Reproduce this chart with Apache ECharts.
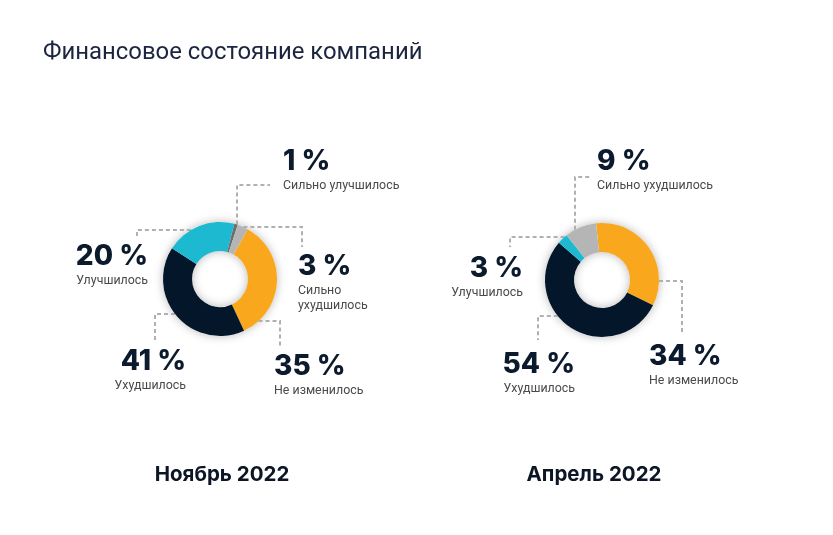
<!DOCTYPE html>
<html><head><meta charset="utf-8">
<script src="https://cdn.jsdelivr.net/npm/echarts@6/dist/echarts.min.js"></script>
<style>html,body{margin:0;padding:0;background:#fff}#c{width:833px;height:535px}</style>
</head><body><div id="c"></div>
<script>
// ---- data ----
const titleText = 'Финансовое состояние компаний';
const periodLabels = ['Ноябрь 2022', 'Апрель 2022'];
const categoriesNov = ['Не изменилось', 'Ухудшилось', 'Улучшилось', 'Сильно улучшилось', 'Сильно ухудшилось'];
const valuesNov = [35, 41, 20, 1, 3];
const categoriesApr = ['Не изменилось', 'Ухудшилось', 'Улучшилось', 'Сильно ухудшилось'];
const valuesApr = [34, 54, 3, 9];

// ---- styles / layout ----
const colorMap = {
  'Не изменилось': '#F9A71C',
  'Ухудшилось': '#04172A',
  'Улучшилось': '#1CB9D0',
  'Сильно улучшилось': '#6E6E6E',
  'Сильно ухудшилось': '#B5B5B5'
};
const R_OUT = 57, R_IN = 28;
const centerNov = [220, 279], centerApr = [602, 280];
// label guide layout relative to pie centre
const layoutNov = {
  'Не изменилось':     {dir: 'h', at: 42,  elbow: 60,  end: 69,  lx: 54,  ly: 72,   align: 'left'},
  'Ухудшилось':        {dir: 'h', at: 35,  elbow: -65, end: 61,  lx: -34, ly: 67,   align: 'right'},
  'Улучшилось':        {dir: 'h', at: -49, elbow: -83, end: -41, lx: -72, ly: -38,  align: 'right'},
  'Сильно улучшилось': {dir: 'v', at: 17,  elbow: -94, end: 50,  lx: 63,  ly: -133, align: 'left'},
  'Сильно ухудшилось': {dir: 'h', at: -52, elbow: 82,  end: -32, lx: 78,  ly: -28,  align: 'left', wrap: true}
};
const layoutApr = {
  'Не изменилось':     {dir: 'h', at: 1,   elbow: 80,  end: 55,  lx: 47,  ly: 61,   align: 'left'},
  'Ухудшилось':        {dir: 'h', at: 36,  elbow: -64, end: 60,  lx: -27, ly: 69,   align: 'right'},
  'Улучшилось':        {dir: 'h', at: -43, elbow: -92, end: -33, lx: -79, ly: -27,  align: 'right'},
  'Сильно ухудшилось': {dir: 'v', at: -27, elbow: -103, end: -10, lx: -5, ly: -134, align: 'left'}
};

function makeLayout(center, cats, cfgs) {
  return function (p) {
    const c = cfgs[cats[p.dataIndex]];
    const cx = center[0], cy = center[1];
    let pts;
    if (c.dir === 'h') {
      const y = cy + c.at;
      const side = Math.sign(c.elbow);
      const x0 = cx + side * Math.sqrt(Math.max(R_OUT * R_OUT - c.at * c.at, 0));
      pts = [[x0, y], [cx + c.elbow, y], [cx + c.elbow, cy + c.end]];
    } else {
      const x = cx + c.at;
      const y0 = cy - Math.sqrt(Math.max(R_OUT * R_OUT - c.at * c.at, 0));
      pts = [[x, y0], [x, cy + c.elbow], [cx + c.end, cy + c.elbow]];
    }
    return {x: cx + c.lx, y: cy + c.ly, align: c.align, verticalAlign: 'top', labelLinePoints: pts};
  };
}

function makeFormatter(cats, cfgs) {
  return function (p) {
    const c = cfgs[cats[p.dataIndex]];
    const name = c.wrap ? p.name.replace(' ', '\n') : p.name;
    return '{n|' + p.value + ' %}\n' + name.split('\n').map(s => '{t|' + s + '}').join('\n');
  };
}

const richStyle = {
  n: {fontFamily: 'Inter', fontWeight: 800, fontSize: 28, lineHeight: 32, color: '#0B1A2C'},
  t: {fontFamily: 'Roboto', fontSize: 12.4, lineHeight: 15, color: '#4A4A4A'}
};

function shadowRing(center) {
  return {
    type: 'pie', center: center, radius: [R_IN, R_OUT], silent: true, z: 1,
    label: {show: false}, labelLine: {show: false},
    itemStyle: {color: '#ffffff', shadowBlur: 10, shadowColor: 'rgba(0,0,0,0.28)'},
    data: [{value: 1, name: ''}]
  };
}

function dataPie(center, cats, vals, cfgs, startAngle) {
  return {
    type: 'pie', center: center, radius: [R_IN, R_OUT], startAngle: startAngle, clockwise: true,
    z: 2, avoidLabelOverlap: false, silent: true,
    emphasis: {disabled: true},
    itemStyle: {borderWidth: 0},
    label: {show: true, formatter: makeFormatter(cats, cfgs), rich: richStyle},
    labelLine: {show: true, smooth: false, length: 10, length2: 10,
      lineStyle: {color: '#B0B0B0', width: 2, type: [4, 3]}},
    labelLayout: makeLayout(center, cats, cfgs),
    data: cats.map((c, i) => ({name: c, value: vals[i], itemStyle: {color: colorMap[c]}}))
  };
}

const chart = echarts.init(document.getElementById('c'), null, {renderer: 'canvas'});
chart.setOption({
  backgroundColor: '#ffffff',
  animation: false,
  title: [
    {text: titleText, left: 38, top: 36,
      textStyle: {fontFamily: 'Roboto', fontWeight: 400, fontSize: 23.9, color: '#1B2440'}},
    {text: periodLabels[0], left: 217, top: 459, textAlign: 'center',
      textStyle: {fontFamily: 'Inter', fontWeight: 700, fontSize: 20.5, color: '#0D1625'}},
    {text: periodLabels[1], left: 589, top: 459, textAlign: 'center',
      textStyle: {fontFamily: 'Inter', fontWeight: 700, fontSize: 20.5, color: '#0D1625'}}
  ],
  series: [
    shadowRing(centerNov),
    shadowRing(centerApr),
    dataPie(centerNov, categoriesNov, valuesNov, layoutNov, 61),
    dataPie(centerApr, categoriesApr, valuesApr, layoutApr, 96)
  ]
});
</script>
</body></html>
